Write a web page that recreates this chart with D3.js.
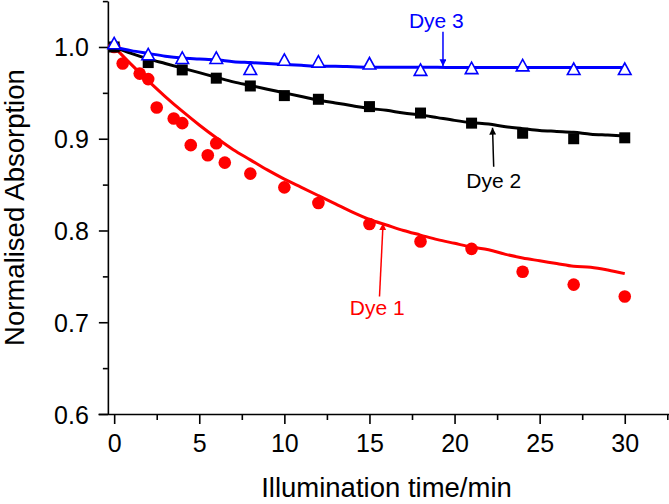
<!DOCTYPE html>
<html><head><meta charset="utf-8">
<script src="https://cdn.jsdelivr.net/npm/d3@7"></script>
<style>html,body{margin:0;padding:0;background:#fff;}svg{display:block;font-family:"Liberation Sans",Arial,sans-serif;}</style>
</head><body><div id="chart"></div>
<script>
// ---- data ----
const dye1X = [0, 0.5, 1.5, 2, 2.5, 3.5, 4, 4.5, 5.5, 6, 6.5, 8, 10, 12, 15, 18, 21, 24, 27, 30];
const dye1Y = [1.0, 0.982, 0.971, 0.965, 0.934, 0.922, 0.917, 0.893, 0.882, 0.895, 0.874, 0.862, 0.847, 0.830, 0.807, 0.788, 0.780, 0.755, 0.741, 0.728];
const dye2X = [0, 2, 4, 6, 8, 10, 12, 15, 18, 21, 24, 27, 30];
const dye2Y = [1.0, 0.983, 0.975, 0.966, 0.9575, 0.947, 0.943, 0.935, 0.928, 0.917, 0.906, 0.900, 0.901];
const dye3X = [0, 2, 4, 6, 8, 10, 12, 15, 18, 21, 24, 27, 30];
const dye3Y = [1.004, 0.992, 0.988, 0.988, 0.976, 0.986, 0.984, 0.982, 0.975, 0.977, 0.980, 0.976, 0.976];
// fitted curves
const fitX = [0,1,2,3,4,5,6,7,8,9,10,11,12,13,14,15,16,17,18,19,20,21,22,23,24,25,26,27,28,29,30];
const fit1Y = [1.0,0.981,0.963,0.946,0.930,0.915,0.901,0.888,0.877,0.866,0.856,0.847,0.838,0.829,0.820,0.812,0.806,0.800,0.795,0.790,0.786,0.782,0.779,0.774,0.770,0.767,0.764,0.761,0.760,0.757,0.753];
const fit2Y = [1.0,0.993,0.987,0.982,0.977,0.972,0.967,0.962,0.958,0.954,0.950,0.946,0.942,0.939,0.936,0.933,0.931,0.928,0.926,0.923,0.920,0.9175,0.916,0.913,0.911,0.909,0.908,0.907,0.905,0.904,0.903];
const fit3Y = [1.0,0.996,0.993,0.990,0.988,0.987,0.986,0.984,0.983,0.982,0.981,0.980,0.979,0.979,0.9785,0.978,0.978,0.978,0.9778,0.9778,0.9777,0.9777,0.9777,0.9777,0.9777,0.9777,0.9777,0.9777,0.9777,0.9777,0.9777];
const xTicks = [0, 5, 10, 15, 20, 25, 30];
const xMinor = [2.5, 7.5, 12.5, 17.5, 22.5, 27.5, 32.5];
const yTicks = [0.6, 0.7, 0.8, 0.9, 1.0];
const yMinor = [0.65, 0.75, 0.85, 0.95, 1.05];
const labels = ["Dye 1", "Dye 2", "Dye 3"];
// annotation anchors in data units: [textX, textY, arrowFromX, arrowFromY, arrowToX, arrowToY]
const annot = [
  [15.46, 0.708, 15.59, 0.728, 15.80, 0.808],
  [22.30, 0.846, 22.30, 0.8695, 22.23, 0.912],
  [18.93, 1.0207, 19.32, 1.0167, 19.32, 0.979]
];
const colors = ["#ff0000", "#000000", "#0000ff"];

// ---- chart ----
const W = 669, H = 504;
const svg = d3.select("#chart").append("svg").attr("width", W).attr("height", H);
const x = d3.scaleLinear().domain([-0.95, 32.6]).range([98, 669]);
const y = d3.scaleLinear().domain([0.6, 1.05]).range([414, 1.1]);
const yAxisX = x(-0.37);

const defs = svg.append("defs");
colors.forEach((c, i) => {
  defs.append("marker").attr("id", "arr" + i).attr("viewBox", "0 0 10 10")
    .attr("refX", 10).attr("refY", 5).attr("markerWidth", 7).attr("markerHeight", 7)
    .attr("markerUnits", "userSpaceOnUse").attr("orient", "auto")
    .append("path").attr("d", "M0,0 L10,5 L0,10 Z").attr("fill", c);
});

// axes
const gx = svg.append("g").attr("transform", `translate(0,${y(0.6)})`)
  .call(d3.axisBottom(x).tickValues(xTicks).tickSize(10).tickSizeOuter(0).tickFormat(d3.format("d")));
gx.selectAll("text").attr("dy", null).attr("y", 38).attr("font-size", 25).attr("fill", "#000")
  .attr("font-family", "Liberation Sans, Arial, sans-serif");
svg.append("g").attr("transform", `translate(0,${y(0.6)})`)
  .call(d3.axisBottom(x).tickValues(xMinor).tickSize(6).tickSizeOuter(0).tickFormat(""))
  .select(".domain").remove();

const gy = svg.append("g").attr("transform", `translate(${yAxisX},0)`)
  .call(d3.axisLeft(y).tickValues(yTicks).tickSize(9).tickSizeOuter(0).tickFormat(d3.format(".1f")));
gy.selectAll("text").attr("x", -19).attr("dy", "0.36em").attr("font-size", 25).attr("fill", "#000")
  .attr("font-family", "Liberation Sans, Arial, sans-serif");
svg.append("g").attr("transform", `translate(${yAxisX},0)`)
  .call(d3.axisLeft(y).tickValues(yMinor).tickSize(5).tickSizeOuter(0).tickFormat(""))
  .select(".domain").remove();
svg.selectAll(".domain, .tick line").attr("stroke", "#000").attr("stroke-width", 1.6);

// axis titles
svg.append("text").attr("x", x(16)).attr("y", 497).attr("text-anchor", "middle")
  .attr("font-size", 27.5).attr("fill", "#000").text("Illumination time/min");
svg.append("text").attr("transform", `translate(24,${(y(0.6) + y(1.05)) / 2}) rotate(-90)`)
  .attr("text-anchor", "middle").attr("font-size", 27.5).attr("fill", "#000").text("Normalised Absorption");

// lines
const line = d3.line().x(d => x(d[0])).y(d => y(d[1])).curve(d3.curveMonotoneX);
const fits = [fit1Y, fit2Y, fit3Y];
function drawLine(i) {
  svg.append("path").datum(fitX.map((v, k) => [v, fits[i][k]]))
    .attr("d", line).attr("fill", "none").attr("stroke", colors[i]).attr("stroke-width", 3);
}
// red
drawLine(0);
svg.append("g").selectAll("circle").data(dye1X.map((v, k) => [v, dye1Y[k]])).join("circle")
  .attr("cx", d => x(d[0])).attr("cy", d => y(d[1])).attr("r", 6.3).attr("fill", colors[0]);
// black
drawLine(1);
svg.append("g").selectAll("rect").data(dye2X.map((v, k) => [v, dye2Y[k]])).join("rect")
  .attr("x", d => x(d[0]) - 5.5).attr("y", d => y(d[1]) - 5.5).attr("width", 11).attr("height", 11).attr("fill", colors[1]);
// blue
drawLine(2);
svg.append("g").selectAll("path").data(dye3X.map((v, k) => [v, dye3Y[k]])).join("path")
  .attr("d", d => { const cx = x(d[0]), cy = y(d[1]); return `M${cx},${cy - 6} L${cx + 6.3},${cy + 5.5} L${cx - 6.3},${cy + 5.5} Z`; })
  .attr("fill", "#fff").attr("stroke", colors[2]).attr("stroke-width", 1.6);

// annotations
annot.forEach((a, i) => {
  svg.append("line").attr("x1", x(a[2])).attr("y1", y(a[3])).attr("x2", x(a[4])).attr("y2", y(a[5]))
    .attr("stroke", colors[i]).attr("stroke-width", 1.5).attr("marker-end", `url(#arr${i})`);
  svg.append("text").attr("x", x(a[0])).attr("y", y(a[1])).attr("text-anchor", "middle")
    .attr("font-size", 21).attr("fill", colors[i]).text(labels[i]);
});
</script></body></html>
